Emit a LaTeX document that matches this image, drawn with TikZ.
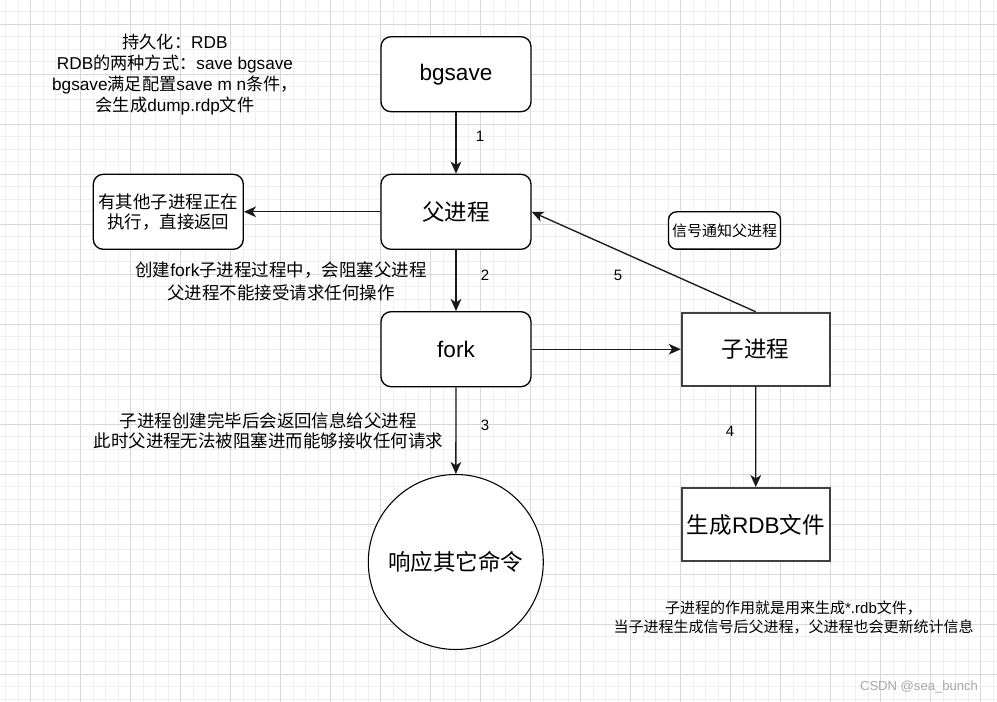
\documentclass[tikz,border=0pt]{standalone}
\usepackage{fontspec}
\setmainfont{Noto Sans CJK SC}
\newfontfamily\lat{Liberation Sans}
\usetikzlibrary{arrows.meta}
\definecolor{gridminor}{HTML}{EFEFEF}
\definecolor{gridmajor}{HTML}{D8D8D8}
\definecolor{sqborder}{HTML}{404040}
\definecolor{wm}{HTML}{A8A8A8}
\begin{document}
\begin{tikzpicture}[x=0.75pt,y=-0.75pt,
  rbox/.style={draw=black, line width=1pt, fill=white, rounded corners=7.5pt,
    minimum width=112.5pt, minimum height=56.25pt, inner sep=0pt, align=center},
  sqbox/.style={draw=sqborder, line width=1.4pt, fill=white,
    minimum width=111pt, minimum height=54.75pt, inner sep=0pt, align=center},
  bigf/.style={font=\fontsize{16.9}{20}\selectfont},
  midf/.style={font=\fontsize{13.1}{15}\selectfont},
  smallf/.style={font=\fontsize{11.25}{14.25}\selectfont},
  txt/.style={inner sep=0pt, align=center},
  arr/.style={-{Stealth[length=9pt,width=8pt,inset=2.5pt]}, line width=1pt, draw=black!90}]
\useasboundingbox (0,0) rectangle (997,702);
\fill[white] (0,0) rectangle (997,702);
% grid
\foreach \i in {0,...,79} \draw[gridminor, line width=0.75pt] ({5.7+12.5*\i},0) -- ({5.7+12.5*\i},702);
\foreach \i in {0,...,55} \draw[gridminor, line width=0.75pt] (0,{11.8+12.5*\i}) -- (997,{11.8+12.5*\i});
\foreach \i in {0,...,19} \draw[gridmajor, line width=0.75pt] ({30.7+50*\i},0) -- ({30.7+50*\i},702);
\foreach \i in {0,...,13} \draw[gridmajor, line width=0.75pt] (0,{24.3+50*\i}) -- (997,{24.3+50*\i});

% nodes
\node[rbox, bigf] (bg) at (456,74.2) {\lat bgsave};
\node[rbox, bigf] (fp) at (456,211.8) {父进程};
\node[rbox, midf] (other) at (168.3,211.8) {有其他子进程正在\\执行，直接返回};
\node[rbox, bigf] (fork) at (456,349.2) {\lat fork};
\node[sqbox, bigf] (child) at (755.7,349.2) {子进程};
\node[sqbox, bigf] (rdb) at (755.8,524.5) {生成{\lat RDB}文件};
\node[circle, draw=black, line width=0.8pt, fill=white, minimum size=131.25pt, inner sep=0pt, bigf] (resp) at (455.8,562) {响应其它命令};
\node[rbox, smallf, minimum width=84pt, minimum height=28pt, rounded corners=6pt] (sig) at (724.5,230.5) {信号通知父进程};

% text blocks
\node[txt, font=\fontsize{12.9}{15.75}\selectfont] (note1) at (175,74.3)
  {持久化：{\lat RDB}\\{\lat RDB}的两种方式：{\lat save bgsave}\\{\lat bgsave}满足配置{\lat save m n}条件，\\会生成{\lat dump.rdp}文件};
\node[txt, font=\fontsize{13.1}{17}\selectfont] (note2) at (281,281.5)
  {创建{\lat fork}子进程过程中，会阻塞父进程\\父进程不能接受请求任何操作};
\node[txt, font=\fontsize{13.1}{15}\selectfont] (note3) at (268.3,430.5)
  {子进程创建完毕后会返回信息给父进程\\此时父进程无法被阻塞进而能够接收任何请求};
\node[txt, smallf] (note4) at (793.5,617.8)
  {子进程的作用就是用来生成{\lat *.rdb}文件，\\当子进程生成信号后父进程，父进程也会更新统计信息};
\node[txt, font=\fontsize{9.8}{12}\selectfont\lat, text=wm] (wmark) at (919,686.7) {CSDN @sea\_bunch};

% edge labels
\node[txt, smallf] (l1) at (480,136.7) {\lat 1};
\node[txt, smallf] (l2) at (485,275) {\lat 2};
\node[txt, smallf] (l3) at (485,425) {\lat 3};
\node[txt, smallf] (l4) at (730,431) {\lat 4};
\node[txt, smallf] (l5) at (618,275) {\lat 5};

% connectors
\draw[arr] (bg) -- (fp);
\draw[arr] (fp) -- (other);
\draw[arr] (fp) -- (fork);
\draw[arr] (fork) -- (resp);
\draw[arr] (fork) -- (child);
\draw[arr] (child) -- (rdb);
\draw[arr] (child.north) -- (fp.east);
\end{tikzpicture}
\end{document}
